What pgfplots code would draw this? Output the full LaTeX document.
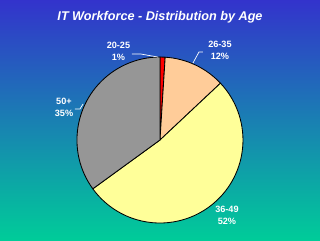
\documentclass[border=0pt]{standalone}
\usepackage{fontspec}
\setmainfont{Liberation Sans}
\usepackage{pgfplots}
\pgfplotsset{compat=1.18}
\definecolor{bgtop}{RGB}{51,51,204}
\definecolor{bgmid}{RGB}{30,140,182}
\definecolor{bgbot}{RGB}{0,204,153}
\definecolor{peach}{RGB}{255,204,153}
\definecolor{pyellow}{RGB}{255,255,153}
\definecolor{pgray}{RGB}{150,150,150}
% #1 cumulative percent before slice, #2 slice percent, #3 fill colour
\newcommand{\pieslice}[3]{%
  \filldraw[fill=#3, draw=black, line width=0.6pt, line join=round]
    (axis cs:0,0) -- ++({90-3.6*(#1)}:2.075cm)
    arc[start angle={90-3.6*(#1)}, delta angle={-3.6*(#2)}, radius=2.075cm] -- cycle;}
\begin{document}
\begin{tikzpicture}
\useasboundingbox (0,0) rectangle (8,6);
\shade[top color=bgtop, middle color=bgmid, bottom color=bgbot] (0,0) rectangle (8,6);
\node[white, font=\fontsize{9}{11}\selectfont\bfseries\itshape] at (4,5.575) {IT Workforce - Distribution by Age};
\begin{axis}[at={(0,0)}, anchor=south west, x=0.025cm, y=0.025cm,
  xmin=-160, xmax=160, ymin=-100, ymax=140, hide axis, clip=false]
\pieslice{0}{1}{red}
\pieslice{1}{12}{peach}
\pieslice{13}{52}{pyellow}
\pieslice{65}{35}{pgray}
\draw[white, line width=0.5pt] (axis cs:-28,86) -- (axis cs:-19,86) -- (axis cs:-2,83);
\draw[white, line width=0.5pt] (axis cs:43,88) -- (axis cs:39,88) -- (axis cs:33,77);
\draw[white, line width=0.5pt] (axis cs:-85,31) -- (axis cs:-80,31) -- (axis cs:-77,36);
\begin{scope}[every node/.style={white, align=center, inner sep=0pt, font=\fontsize{6.5}{8.5}\selectfont\bfseries}]
\node at (axis cs:-41.5,88.5) {20-25\\1\%};
\node at (axis cs:60,89.5) {26-35\\12\%};
\node at (axis cs:-96,33) {50+\\35\%};
\node at (axis cs:67,-75.5) {36-49\\52\%};
\end{scope}
\end{axis}
\end{tikzpicture}
\end{document}
